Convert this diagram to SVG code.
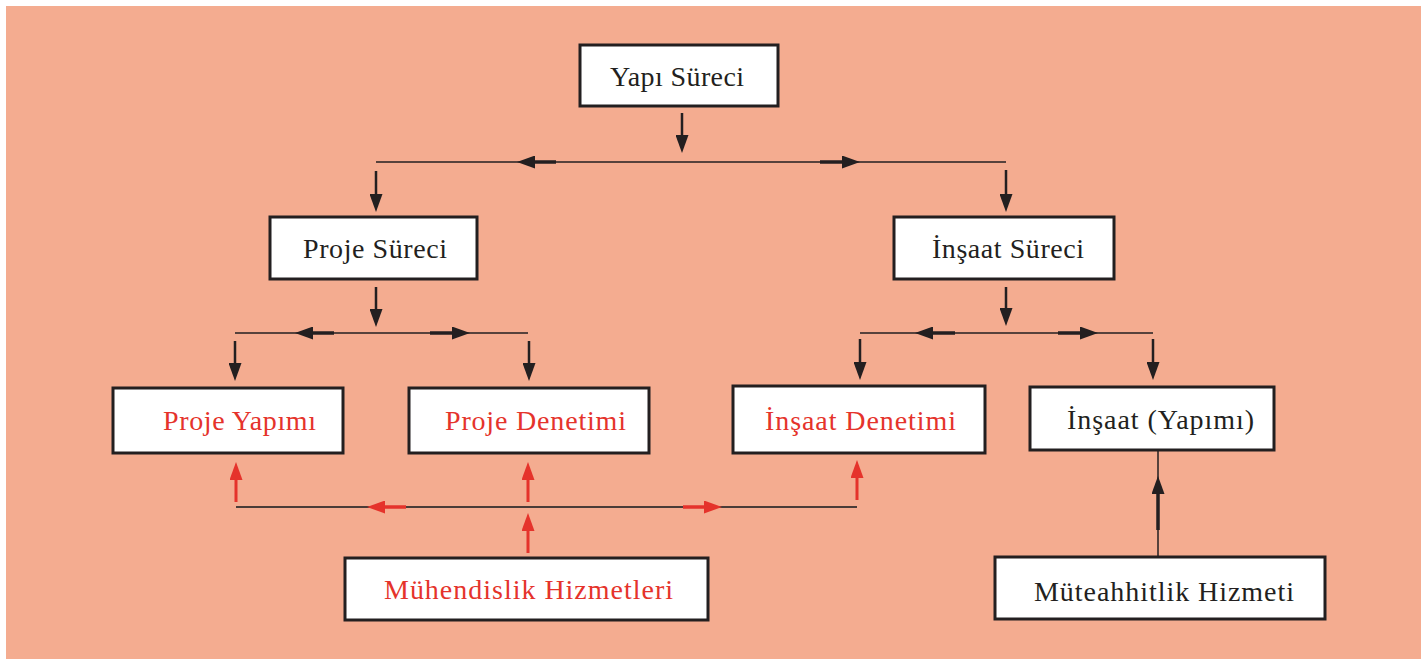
<svg xmlns="http://www.w3.org/2000/svg" width="1421" height="659" viewBox="0 0 1421 659">
<style>
.box{fill:#ffffff;stroke:#231F20;stroke-width:3}
.t{font-family:"Liberation Serif","DejaVu Serif",serif;font-size:28px;fill:#231F20}
.r{fill:#E5332B}
.ln{stroke:#231F20;stroke-width:1.5;fill:none}
.sh{stroke:#231F20;stroke-width:2.5;fill:none;marker-end:url(#ab)}
.st{stroke:#231F20;stroke-width:3.5;fill:none;marker-end:url(#ab)}
.rsh{stroke:#E5332B;stroke-width:3;fill:none;marker-end:url(#ar)}
.rst{stroke:#E5332B;stroke-width:3.5;fill:none;marker-end:url(#ar)}
.gl{stroke:#4A3C38;stroke-width:2;fill:none}
</style>
<defs>
<marker id="ab" markerUnits="userSpaceOnUse" viewBox="0 0 18 13" markerWidth="18" markerHeight="13" refX="2" refY="6.5" orient="auto"><path d="M0,0 L18,6.5 L0,13 z" fill="#231F20"/></marker>
<marker id="ar" markerUnits="userSpaceOnUse" viewBox="0 0 18 13" markerWidth="18" markerHeight="13" refX="2" refY="6.5" orient="auto"><path d="M0,0 L18,6.5 L0,13 z" fill="#E5332B"/></marker>
</defs>
<rect x="6" y="6" width="1415" height="653" fill="#F4AC90"/>
<g id="connectors">
<line class="sh" x1="682" y1="113" x2="682" y2="137"/>
<line class="ln" x1="376" y1="162" x2="1006" y2="162"/>
<line class="st" x1="556" y1="162" x2="533" y2="162"/>
<line class="st" x1="820" y1="162" x2="844" y2="162"/>
<line class="sh" x1="376" y1="171" x2="376" y2="196"/>
<line class="sh" x1="1006" y1="170" x2="1006" y2="196"/>
<line class="sh" x1="376" y1="287" x2="376" y2="311"/>
<line class="ln" x1="235" y1="333" x2="528" y2="333"/>
<line class="st" x1="334" y1="333" x2="311" y2="333"/>
<line class="st" x1="430" y1="333" x2="454" y2="333"/>
<line class="sh" x1="235" y1="341" x2="235" y2="365"/>
<line class="sh" x1="529" y1="341" x2="529" y2="365"/>
<line class="sh" x1="1006" y1="287" x2="1006" y2="310"/>
<line class="ln" x1="860" y1="333" x2="1153" y2="333"/>
<line class="st" x1="955" y1="333" x2="931" y2="333"/>
<line class="st" x1="1058" y1="333" x2="1082" y2="333"/>
<line class="sh" x1="860" y1="339" x2="860" y2="364"/>
<line class="sh" x1="1153" y1="339" x2="1153" y2="364"/>
<line class="gl" x1="236" y1="507" x2="857" y2="507"/>
<line class="rsh" x1="236" y1="502" x2="236" y2="478"/>
<line class="rsh" x1="528" y1="502" x2="528" y2="478"/>
<line class="rsh" x1="857" y1="500" x2="857" y2="476"/>
<line class="rst" x1="406" y1="507" x2="383" y2="507"/>
<line class="rst" x1="683" y1="507" x2="706" y2="507"/>
<line class="rsh" x1="528" y1="553" x2="528" y2="529"/>
<line class="ln" x1="1158" y1="557" x2="1158" y2="450"/>
<line class="st" x1="1158" y1="530" x2="1158" y2="492"/>
</g>
<g id="yapi-sureci"><rect class="box" x="580" y="45" width="198" height="61"/><text class="t" x="610" y="86" textLength="134" lengthAdjust="spacing">Yapı Süreci</text></g>
<g id="proje-sureci"><rect class="box" x="270" y="217" width="207" height="62"/><text class="t" x="303" y="258" textLength="144" lengthAdjust="spacing">Proje Süreci</text></g>
<g id="insaat-sureci"><rect class="box" x="894" y="217" width="220" height="62"/><text class="t" x="932" y="258" textLength="152" lengthAdjust="spacing">İnşaat Süreci</text></g>
<g id="proje-yapimi"><rect class="box" x="113" y="388" width="230" height="65"/><text class="t r" x="163" y="430" textLength="153" lengthAdjust="spacing">Proje Yapımı</text></g>
<g id="proje-denetimi"><rect class="box" x="409" y="388" width="240" height="65"/><text class="t r" x="445" y="430" textLength="181" lengthAdjust="spacing">Proje Denetimi</text></g>
<g id="insaat-denetimi"><rect class="box" x="733" y="386" width="252" height="67"/><text class="t r" x="765" y="430" textLength="191" lengthAdjust="spacing">İnşaat Denetimi</text></g>
<g id="insaat-yapimi"><rect class="box" x="1030" y="387" width="244" height="63"/><text class="t" x="1067" y="429" textLength="187" lengthAdjust="spacing">İnşaat (Yapımı)</text></g>
<g id="muhendislik"><rect class="box" x="345" y="558" width="363" height="62"/><text class="t r" x="384" y="599" textLength="289" lengthAdjust="spacing">Mühendislik Hizmetleri</text></g>
<g id="muteahhitlik"><rect class="box" x="995" y="557" width="330" height="62"/><text class="t" x="1034" y="601" textLength="260" lengthAdjust="spacing">Müteahhitlik Hizmeti</text></g>
</svg>
